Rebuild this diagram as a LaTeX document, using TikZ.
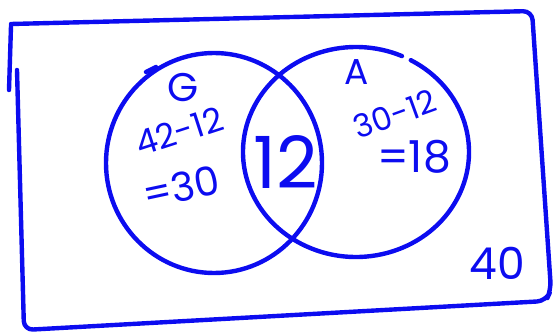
\documentclass[tikz,border=0pt]{standalone}
\usepackage{fontspec}
\setmainfont{Poppins}
\definecolor{pen}{RGB}{12,12,240}
\begin{document}
\begin{tikzpicture}[x=1pt,y=-1pt,
  ink/.style={draw=pen,line width=4.4pt,line cap=round,line join=round},
  lab/.style={text=pen,inner sep=0pt,font=\fontsize{#1}{#1}\selectfont},
  lab/.default=30]
\useasboundingbox (0,0) rectangle (555,332);
% universal set box
\draw[ink,rounded corners=9pt] (17,70) -- (24,330) -- (546,301) -- (551,290) -- (532,11) -- (11,24);
\draw[ink] (11,26) -- (9,90);
% set G
\draw[ink] (214,163) ellipse [x radius=108,y radius=110];
\draw[ink] (146,72) -- (156,67);
% set A (small gap at top right)
\draw[ink] (356,152) ++(-61:113 and 105) arc [start angle=-61,end angle=294,x radius=113,y radius=105];
% labels
\node[lab=40] (g) at (183,88) {G};
\node[lab=34,rotate=18] (g1) at (179,131) {42-12};
\node[lab=40,rotate=12] (g2) at (181,187) {=30};
\node[lab=72] (both) at (286,162) {12};
\node[lab=36] (a) at (357,72) {A};
\node[lab=32,rotate=20] (a1) at (395,114) {30-12};
\node[lab=44] (a2) at (414,157) {=18};
\node[lab=44] (out) at (497,263) {40};
\end{tikzpicture}
\end{document}
